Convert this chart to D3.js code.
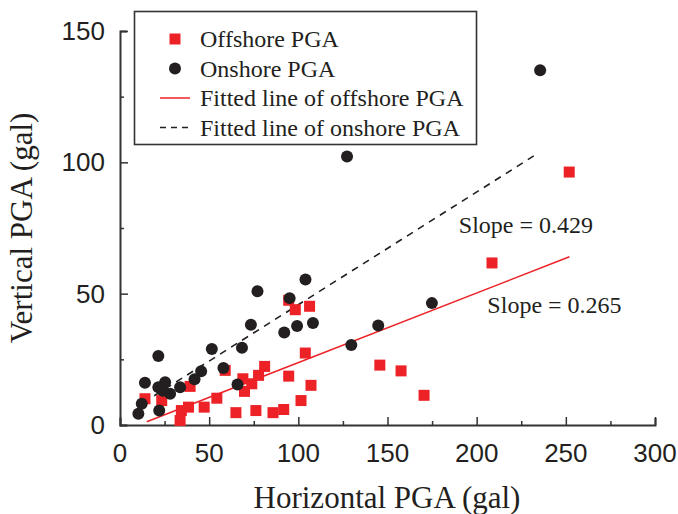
<!DOCTYPE html>
<html>
<head>
<meta charset="utf-8">
<script src="https://cdn.jsdelivr.net/npm/d3@7"></script>
<style>
  body { margin: 0; background: #fff; }
  svg { display: block; }
  .tickLabel { font-family: "Liberation Sans", Arial, sans-serif; font-size: 26px; fill: #231f20; }
  .serif { font-family: "Liberation Serif", "Times New Roman", serif; fill: #231f20; }
</style>
</head>
<body>
<div id="chart"></div>
<script>
// data vars
const offshorePoints = [
  [251.9, 96.3], [208.6, 61.7], [94.6, 47.5], [98.3, 43.9], [106.3, 45.2],
  [103.9, 27.4], [145.7, 22.8], [157.6, 20.6], [170.5, 11.3], [107.1, 15.1],
  [101.5, 9.3], [91.8, 5.9], [85.8, 4.7], [76.2, 5.5], [65.0, 4.7],
  [81.1, 22.3], [77.7, 18.9], [94.6, 18.6], [68.9, 17.6], [73.9, 15.7],
  [69.8, 12.8], [59.0, 20.8], [54.3, 10.2], [47.2, 6.8], [38.4, 6.8],
  [39.3, 14.7], [34.4, 5.5], [33.7, 1.7], [23.4, 9.3], [14.0, 10.0]
];
const onshorePoints = [
  [235.6, 135.1], [127.3, 102.2], [104.0, 55.4], [77.1, 50.9], [95.1, 48.3],
  [174.9, 46.4], [73.4, 38.2], [99.3, 37.7], [108.2, 38.8], [92.1, 35.2],
  [144.8, 37.9], [129.7, 30.5], [51.5, 28.9], [68.4, 29.4], [21.5, 26.3],
  [58.0, 21.7], [45.5, 20.5], [41.8, 17.4], [14.0, 16.1], [21.5, 14.4],
  [25.3, 16.3], [28.1, 11.9], [24.0, 13.0], [33.7, 14.4], [65.9, 15.4],
  [12.2, 8.1], [10.3, 4.3], [22.0, 5.5]
];
const offshoreFit = { slope: 0.265, intercept: -2.75, from: 15, to: 252 };
const onshoreFit = { slope: 0.429, intercept: 2.9, from: 13, to: 233 };
const slopeLabels = [
  { text: "Slope = 0.429", x: 190, y: 73 },
  { text: "Slope = 0.265", x: 206, y: 42.5 }
];
const xTicks = [0, 50, 100, 150, 200, 250, 300];
const yTicks = [0, 50, 100, 150];
const legendLabels = ["Offshore PGA", "Onshore PGA", "Fitted line of offshore PGA", "Fitted line of onshore PGA"];

// constants
const width = 678;
const height = 514;
const red = "#ed2227";
const black = "#231f20";

const svg = d3.select("#chart")
  .append("svg")
  .attr("width", width)
  .attr("height", height);

const x = d3.scaleLinear().domain([0, 300]).range([120, 655]);
const y = d3.scaleLinear().domain([0, 150]).range([425, 31]);

// axes with inward ticks
const xAxis = g => g
  .attr("transform", `translate(0, ${y(0)})`)
  .call(d3.axisTop(x).tickValues(d3.range(0, 301, 25)).tickSize(7).tickFormat(""))
  .call(g => g.selectAll(".tick line")
    .attr("y2", d => d % 50 === 0 ? -8 : -4)
    .attr("stroke", "#333").attr("stroke-width", 1.5))
  .call(g => g.select(".domain").attr("stroke", "#333").attr("stroke-width", 2));

const yAxis = g => g
  .attr("transform", `translate(${x(0)}, 0)`)
  .call(d3.axisRight(y).tickValues(d3.range(0, 151, 25)).tickSize(7).tickFormat(""))
  .call(g => g.selectAll(".tick line")
    .attr("x2", d => d % 50 === 0 ? 8 : 4)
    .attr("stroke", "#333").attr("stroke-width", 1.5))
  .call(g => g.select(".domain").attr("stroke", "#333").attr("stroke-width", 2));

svg.append("g").call(xAxis);
svg.append("g").call(yAxis);

svg.append("g")
  .selectAll("text")
  .data(xTicks)
  .join("text")
  .attr("class", "tickLabel")
  .attr("x", d => x(d))
  .attr("y", 462)
  .attr("text-anchor", "middle")
  .text(d => d);

svg.append("g")
  .selectAll("text")
  .data(yTicks)
  .join("text")
  .attr("class", "tickLabel")
  .attr("x", 105)
  .attr("y", d => y(d) + 9)
  .attr("text-anchor", "end")
  .text(d => d);

// axis titles
svg.append("text")
  .attr("class", "serif")
  .attr("x", 387)
  .attr("y", 508)
  .attr("text-anchor", "middle")
  .style("font-size", "31px")
  .text("Horizontal PGA (gal)");

svg.append("text")
  .attr("class", "serif")
  .attr("transform", "translate(32, 228) rotate(-90)")
  .attr("text-anchor", "middle")
  .style("font-size", "31px")
  .text("Vertical PGA (gal)");

// fitted lines
const fitPath = f => d3.line()([
  [x(f.from), y(f.slope * f.from + f.intercept)],
  [x(f.to), y(f.slope * f.to + f.intercept)]
]);

svg.append("path")
  .attr("d", fitPath(offshoreFit))
  .attr("stroke", red)
  .attr("stroke-width", 1.5)
  .attr("fill", "none");

svg.append("path")
  .attr("d", fitPath(onshoreFit))
  .attr("stroke", black)
  .attr("stroke-width", 1.6)
  .attr("stroke-dasharray", "7, 6")
  .attr("fill", "none");

// points
const sq = 11;
svg.append("g")
  .selectAll("rect")
  .data(offshorePoints)
  .join("rect")
  .attr("x", d => x(d[0]) - sq / 2)
  .attr("y", d => y(d[1]) - sq / 2)
  .attr("width", sq)
  .attr("height", sq)
  .attr("fill", red);

svg.append("g")
  .selectAll("circle")
  .data(onshorePoints)
  .join("circle")
  .attr("cx", d => x(d[0]))
  .attr("cy", d => y(d[1]))
  .attr("r", 6)
  .attr("fill", black);

// slope labels
svg.append("g")
  .selectAll("text")
  .data(slopeLabels)
  .join("text")
  .attr("class", "serif")
  .attr("x", d => x(d.x))
  .attr("y", d => y(d.y))
  .style("font-size", "24px")
  .text(d => d.text);

// legend
const legend = svg.append("g");
legend.append("rect")
  .attr("x", 134.5)
  .attr("y", 11.5)
  .attr("width", 342)
  .attr("height", 133)
  .attr("fill", "#fff")
  .attr("stroke", "#333")
  .attr("stroke-width", 1.6);

const rowY = i => 39 + i * 29.5;

legend.append("rect")
  .attr("x", 175 - sq / 2).attr("y", rowY(0) - sq / 2)
  .attr("width", sq).attr("height", sq)
  .attr("fill", red);
legend.append("circle")
  .attr("cx", 175).attr("cy", rowY(1)).attr("r", 6)
  .attr("fill", black);
legend.append("line")
  .attr("x1", 160).attr("x2", 190)
  .attr("y1", rowY(2)).attr("y2", rowY(2))
  .attr("stroke", red).attr("stroke-width", 1.5);
legend.append("line")
  .attr("x1", 160).attr("x2", 190)
  .attr("y1", rowY(3)).attr("y2", rowY(3))
  .attr("stroke", black).attr("stroke-width", 1.6)
  .attr("stroke-dasharray", "6, 5");

legend.selectAll("text.legendLabel")
  .data(legendLabels)
  .join("text")
  .attr("class", "serif legendLabel")
  .attr("x", 200)
  .attr("y", (d, i) => rowY(i) + 8)
  .style("font-size", "24px")
  .text(d => d);
</script>
</body>
</html>
